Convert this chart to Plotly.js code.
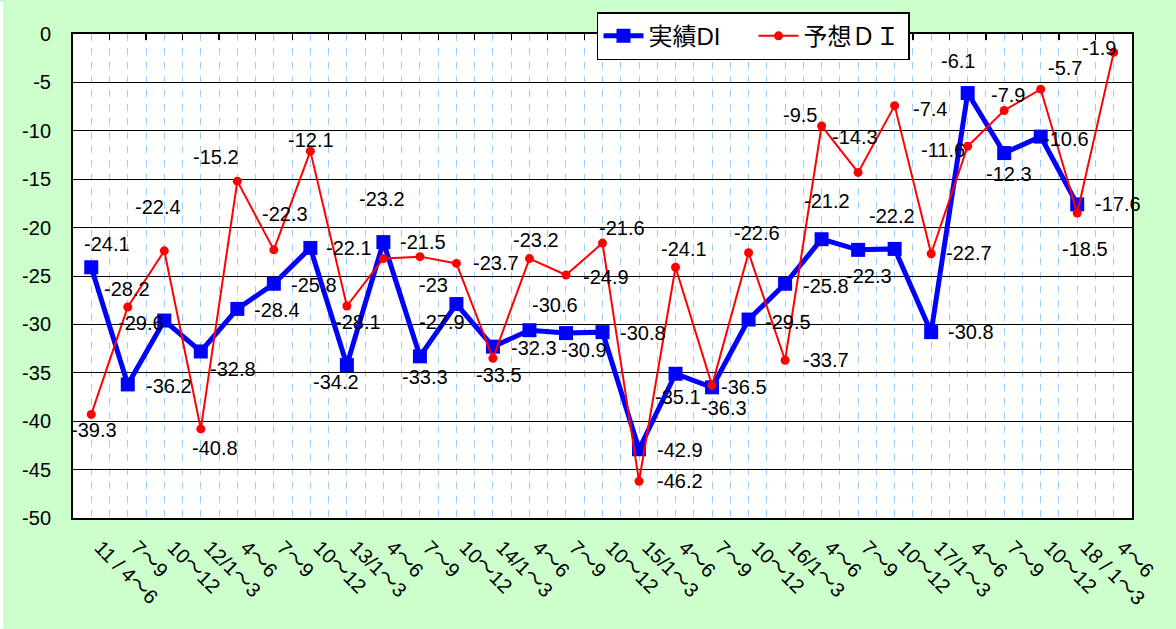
<!DOCTYPE html>
<html>
<head>
<meta charset="utf-8">
<script src="https://cdn.plot.ly/plotly-3.0.1.min.js"></script>
<style>
html,body{margin:0;padding:0;background:#ccffcc;}
#chart{width:1176px;height:629px;}
</style>
</head>
<body>
<div id="chart"></div>
<script>
// ---- data ----
const categories = ['11 / 4～6','7～9','10～12','12/1～3','4～6','7～9','10～12','13/1～3','4～6','7～9','10～12','14/1～3','4～6','7～9','10～12','15/1～3','4～6','7～9','10～12','16/1～3','4～6','7～9','10～12','17/1～3','4～6','7～9','10～12','18 / 1～3','4～6'];
const actualDI = [-24.1,-36.2,-29.6,-32.8,-28.4,-25.8,-22.1,-34.2,-21.5,-33.3,-27.9,-32.3,-30.6,-30.9,-30.8,-42.9,-35.1,-36.5,-29.5,-25.8,-21.2,-22.3,-22.2,-30.8,-6.1,-12.3,-10.6,-17.6];
const forecastDI = [-39.3,-28.2,-22.4,-40.8,-15.2,-22.3,-12.1,-28.1,-23.2,-23,-23.7,-33.5,-23.2,-24.9,-21.6,-46.2,-24.1,-36.3,-22.6,-33.7,-9.5,-14.3,-7.4,-22.7,-11.6,-7.9,-5.7,-18.5,-1.9];
const seriesNames = ['実績DI','予想ＤＩ'];
const yTickVals = [0,-5,-10,-15,-20,-25,-30,-35,-40,-45,-50];
const yTickText = ['0','-5','-10','-15','-20','-25','-30','-35','-40','-45','-50'];

// ---- label placement (screen px offsets from each point) ----
const actualLabelOffsets = [[16,-23],[41,2],[-23,2],[32,17],[40,1],[40,1],[39,0],[-11,17],[40,0],[5,21],[-14,18],[41,1],[26,-25],[18,17],[40,1],[41,1],[2,23],[32,0],[39,2],[41,2],[5,-38],[11,26],[-3,-33],[40,0],[-10,-32],[5,21],[25,2],[41,0]];
const forecastLabelOffsets = [[3,16],[-1,-18],[-6,-44],[14,19],[-21,-24],[11,-36],[1,-11],[11,16],[-1,-60],[14,28],[40,0],[6,17],[7,-19],[40,2],[19,-15],[41,0],[8,-18],[12,23],[8,-20],[41,0],[-22,-11],[-3,-35],[35,3],[38,-1],[-25,4],[4,-15],[24,-21],[8,36],[-15,-4]];

const idx = n => Array.from({length:n},(_,i)=>i);
const xA = idx(actualDI.length);
const xF = idx(forecastDI.length);
const xCat = idx(categories.length);
const bounds = idx(categories.length+1).map(i=>i-0.5);

const labelFont = {family:'Liberation Sans, Arial, sans-serif', size:20, color:'#000'};
const annotations = [];
actualDI.forEach((v,i)=>{
  const o = actualLabelOffsets[i];
  annotations.push({x:xA[i], y:v, xref:'x', yref:'y', text:String(v), showarrow:false,
    xshift:o[0], yshift:-o[1], xanchor:'center', yanchor:'middle', font:labelFont});
});
forecastDI.forEach((v,i)=>{
  const o = forecastLabelOffsets[i];
  annotations.push({x:xF[i], y:v, xref:'x', yref:'y', text:String(v), showarrow:false,
    xshift:o[0], yshift:-o[1], xanchor:'center', yanchor:'middle', font:labelFont});
});

const data = [
  {x:xA, y:actualDI, name:seriesNames[0], type:'scatter', mode:'lines+markers',
   line:{color:'#0000ff', width:5}, marker:{symbol:'square', size:14, color:'#0000ff'}, cliponaxis:false},
  {x:xF, y:forecastDI, name:seriesNames[1], type:'scatter', mode:'lines+markers',
   line:{color:'#ff0000', width:2}, marker:{symbol:'circle', size:9, color:'#ff0000'}, cliponaxis:false},
  {x:[bounds[0]], y:[0], xaxis:'x2', yaxis:'y', type:'scatter', mode:'markers',
   marker:{opacity:0}, showlegend:false, hoverinfo:'skip'}
];

const layout = {
  width:1176, height:629,
  margin:{l:73, r:44, t:32, b:111, pad:0},
  paper_bgcolor:'#ccffcc', plot_bgcolor:'#ffffff',
  showlegend:true,
  legend:{orientation:'h', x:0.4948, y:1.045, xanchor:'left', yanchor:'top',
    bgcolor:'#ffffff', bordercolor:'#000000', borderwidth:1.5,
    font:{family:'Liberation Sans, Noto Sans CJK JP, sans-serif', size:24, color:'#000'},
    itemwidth:40, tracegroupgap:0, entrywidth:100, entrywidthmode:'pixels'},
  xaxis:{range:[-0.5, categories.length-0.5], tickmode:'array', tickvals:xCat, ticktext:categories,
    tickangle:45, ticks:'', ticklabelstandoff:8, ticklabelshift:9,
    tickfont:{family:'Liberation Sans, Noto Sans CJK JP, sans-serif', size:20, color:'#000'},
    showgrid:true, gridcolor:'#99ccff', griddash:'7px,7px', gridwidth:1,
    minor:{tickmode:'linear', tick0:-0.5, dtick:0.5, showgrid:true, gridcolor:'#99ccff', griddash:'7px,7px', gridwidth:1, ticks:''},
    showline:true, linecolor:'#000', linewidth:2, mirror:true, zeroline:false, fixedrange:true},
  xaxis2:{overlaying:'x', anchor:'y', side:'top', range:[-0.5, categories.length-0.5],
    tickmode:'array', tickvals:bounds, ticks:'inside', ticklen:6, tickwidth:1.2, tickcolor:'#000',
    showticklabels:false, showgrid:false, showline:false, zeroline:false},
  yaxis:{range:[-50,0], tickmode:'array', tickvals:yTickVals, ticktext:yTickText,
    tickfont:{family:'Liberation Sans, Arial, sans-serif', size:20, color:'#000'},
    ticks:'', ticklabelstandoff:16,
    showgrid:true, gridcolor:'#000', gridwidth:1,
    showline:true, linecolor:'#000', linewidth:2, mirror:true, zeroline:false, fixedrange:true},
  shapes:[{type:'rect', xref:'paper', yref:'paper', x0:-73/1059, x1:-70/1059, y0:-111/486, y1:1+32/486,
    fillcolor:'#ffffff', line:{width:0}, layer:'below'}],
  annotations:annotations
};

Plotly.newPlot('chart', data, layout, {staticPlot:true, displayModeBar:false});
</script>
</body>
</html>
